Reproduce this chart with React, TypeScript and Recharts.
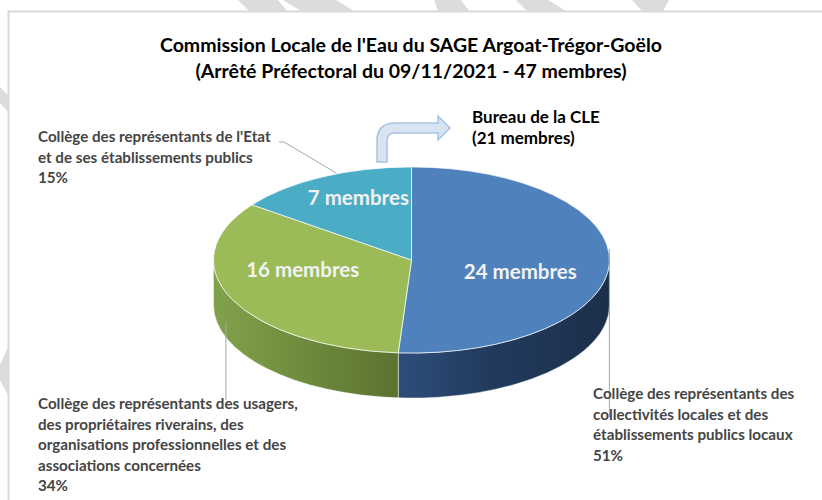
import { Customized, Pie, PieChart } from 'recharts'

// --- data ---
const members = [24, 16, 7]
const categoryNames = ['Collectivités', 'Usagers', 'Etat']
const categoryLines = [
  ['Collège des représentants des', 'collectivités locales et des', 'établissements publics locaux'],
  ['Collège des représentants des usagers,', 'des propriétaires riverains, des', 'organisations professionnelles et des', 'associations concernées'],
  ["Collège des représentants de l'Etat", 'et de ses établissements publics'],
]
const titleLines = ["Commission Locale de l'Eau du SAGE Argoat-Trégor-Goëlo", '(Arrêté Préfectoral du 09/11/2021 - 47 membres)']
const bureauLines = ['Bureau de la CLE', '(21 membres)']

// --- styling ---
const topColors = ['#4f81bd', '#9bbb59', '#4bacc6']
const sideStops = [
  ['#2d4d7a', '#213a5c', '#1c2f4a'],
  ['#81a24b', '#6f8d3e', '#5a7230'],
  ['#2f8aa3', '#2a7b92', '#236a7e'],
]
const innerNudge = [
  [0, 9],
  [-10, -13],
  [-4, -17],
]
const outerLabelPos = [
  { x: 593, y: 399 },
  { x: 38, y: 409 },
  { x: 38, y: 142 },
]
const FONT = 'Lato, "Open Sans", sans-serif'
const TILT = 0.47
const DEPTH = 45
const RAD = Math.PI / 180

const data = members.map((value, i) => ({ name: categoryNames[i], value }))

const ellipsePoint = (cx: number, cy: number, r: number, deg: number, dy = 0) => ({
  x: cx + r * Math.cos(deg * RAD),
  y: cy - r * TILT * Math.sin(deg * RAD) + dy,
})

const Slice3D = (props: any) => {
  const { cx, cy, outerRadius, startAngle, endAngle, index } = props
  const rx = outerRadius
  const ry = outerRadius * TILT
  const hi = Math.max(startAngle, endAngle)
  const lo = Math.min(startAngle, endAngle)
  const p1 = ellipsePoint(cx, cy, rx, hi)
  const p2 = ellipsePoint(cx, cy, rx, lo)
  const large = hi - lo > 180 ? 1 : 0
  const top = `M${cx},${cy} L${p1.x},${p1.y} A${rx},${ry} 0 ${large} 1 ${p2.x},${p2.y} Z`

  const walls: string[] = []
  for (const k of [-1, 0, 1]) {
    const a = Math.max(lo, -180 + 360 * k)
    const b = Math.min(hi, 360 * k)
    if (b > a) {
      const s = ellipsePoint(cx, cy, rx, b)
      const e = ellipsePoint(cx, cy, rx, a)
      const s2 = ellipsePoint(cx, cy, rx, b, DEPTH)
      const e2 = ellipsePoint(cx, cy, rx, a, DEPTH)
      walls.push(
        `M${s.x},${s.y} A${rx},${ry} 0 0 1 ${e.x},${e.y} L${e2.x},${e2.y} A${rx},${ry} 0 0 0 ${s2.x},${s2.y} Z`
      )
    }
  }
  const gid = `side-grad-${index}`
  const stops = sideStops[index % sideStops.length]
  return (
    <g>
      <defs>
        <linearGradient id={gid} x1="0" y1="0" x2="1" y2="0">
          <stop offset="0%" stopColor={stops[0]} />
          <stop offset="45%" stopColor={stops[1]} />
          <stop offset="100%" stopColor={stops[2]} />
        </linearGradient>
      </defs>
      {walls.map((d, i) => (
        <path key={i} d={d} fill={`url(#${gid})`} stroke="#ffffff" strokeOpacity={0.45} strokeWidth={1} />
      ))}
      <path d={top} fill={topColors[index % topColors.length]} stroke="#ffffff" strokeOpacity={0.7} strokeWidth={1} />
    </g>
  )
}

const renderLabel = (props: any) => {
  const { cx, cy, midAngle, outerRadius, percent, value, index } = props
  const inner = ellipsePoint(cx, cy, outerRadius * 0.55, midAngle)
  const [dx, dy] = innerNudge[index]
  const anchor = ellipsePoint(cx, cy, outerRadius, midAngle)
  const pos = outerLabelPos[index]
  const lines = [...categoryLines[index], `${Math.round(percent * 100)}%`]
  let leader = ''
  if (index === 0) leader = `M${anchor.x},${anchor.y - 14} L${anchor.x},417`
  if (index === 1) leader = `M${anchor.x - 6},${anchor.y + DEPTH / 2} L${anchor.x - 6},400`
  if (index === 2) leader = `M279,142 L284,142 L${anchor.x + 14},${anchor.y - 4}`
  return (
    <g key={`lbl-${index}`}>
      <path d={leader} stroke="#a6a6a6" strokeWidth={1} fill="none" />
      <text
        x={inner.x + dx}
        y={inner.y + dy}
        textAnchor="middle"
        dominantBaseline="central"
        fill="#f2f2f2"
        fontFamily={FONT}
        fontWeight={700}
        fontSize={20.5}
      >
        {`${value} membres`}
      </text>
      <text x={pos.x} y={pos.y} fill="#454545" fontFamily={FONT} fontWeight={700} fontSize={15.2}>
        {lines.map((l, i) => (
          <tspan key={i} x={pos.x} dy={i === 0 ? 0 : 20.6}>
            {l}
          </tspan>
        ))}
      </text>
    </g>
  )
}

const Decorations = () => (
  <g>
    {[
      '238,0 278,0 287,11 249,11',
      '283,0 336,0 354,11 301,11',
      '434,0 461,0 469,11 438,11',
      '516,0 548,0 566,11 527,11',
      '632,0 669,0 663,11 642,11',
      '0,87 8,95 8,112 0,103',
      '8,347 8,395 0,380 0,365',
    ].map((p, i) => (
      <polygon key={i} points={p} fill="#dcdcdc" />
    ))}
    <rect x={8.5} y={11.5} width={830} height={500} fill="none" stroke="#d9d9d9" strokeWidth={2} />
    {titleLines.map((t, i) => (
      <text key={i} x={411} y={52 + i * 26} textAnchor="middle" fill="#000" fontFamily={FONT} fontWeight={700} fontSize={19.5}>
        {t}
      </text>
    ))}
    <path
      d="M377,162 L377,141 Q377,123 395,123 L438,123 L438,116 L450,128 L438,140 L438,133 L395,133 Q387,133 387,141 L387,162 Z"
      fill="#d8e4f2"
      stroke="#a8c2e2"
      strokeWidth={1.5}
    />
    {bureauLines.map((t, i) => (
      <text key={i} x={472} y={123 + i * 20.5} fill="#000" fontFamily={FONT} fontWeight={700} fontSize={17}>
        {t}
      </text>
    ))}
  </g>
)

export default function App() {
  return (
    <div style={{ position: 'absolute', left: 0, top: 0, width: 822, height: 500, background: '#fff' }}>
      <PieChart width={822} height={500} margin={{ top: 0, right: 0, bottom: 0, left: 0 }}>
        <Customized component={Decorations} />
        <Pie
          data={data}
          dataKey="value"
          nameKey="name"
          cx={411.5}
          cy={260}
          outerRadius={198}
          startAngle={90}
          endAngle={-270}
          stroke="none"
          shape={Slice3D}
          activeShape={Slice3D}
          inactiveShape={Slice3D}
          label={renderLabel}
          labelLine={false}
          isAnimationActive={false}
        />
      </PieChart>
    </div>
  )
}
